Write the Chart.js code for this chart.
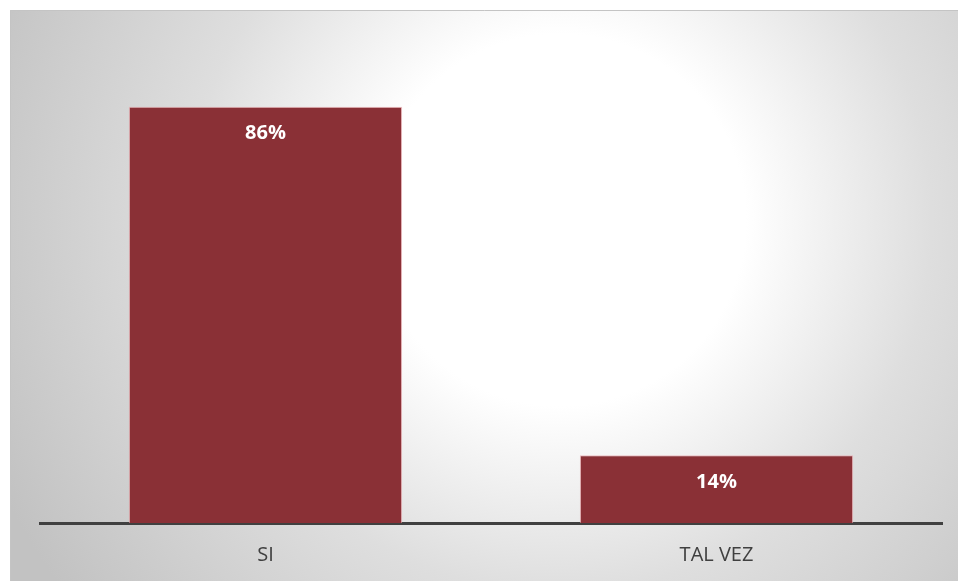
<!DOCTYPE html>
<html>
<head>
<meta charset="utf-8">
<script src="https://cdn.jsdelivr.net/npm/chart.js@4/dist/chart.umd.min.js"></script>
<style>
  html, body { margin: 0; padding: 0; background: #ffffff; }
  #wrap { position: absolute; left: 10px; top: 10px; width: 948px; height: 571px; }
</style>
</head>
<body>
<div id="wrap"><canvas id="chart" width="948" height="571"></canvas></div>
<script>
// Answers and their shares (percent)
const categories = ['SI', 'TAL VEZ'];
const shares = [86, 14];
const yMax = 100;

// Soft radial backdrop plus a thin frame on the top/left edges
const backdrop = {
  id: 'backdrop',
  beforeDraw(chart) {
    const { ctx, width, height } = chart;
    ctx.save();
    const g = ctx.createRadialGradient(550, 210, 0, 550, 210, 620);
    g.addColorStop(0, '#ffffff');
    g.addColorStop(0.3, '#ffffff');
    g.addColorStop(0.6, '#dedede');
    g.addColorStop(1, '#c2c2c2');
    ctx.fillStyle = g;
    ctx.fillRect(0, 0, width, height);
    ctx.strokeStyle = '#c4c4c4';
    ctx.lineWidth = 1;
    ctx.beginPath();
    ctx.moveTo(0.5, height);
    ctx.lineTo(0.5, 0.5);
    ctx.lineTo(width, 0.5);
    ctx.stroke();
    ctx.restore();
  }
};

// White value labels just inside the top of each bar
const valueLabels = {
  id: 'valueLabels',
  afterDatasetsDraw(chart) {
    const { ctx } = chart;
    const meta = chart.getDatasetMeta(0);
    const data = chart.data.datasets[0].data;
    ctx.save();
    ctx.fillStyle = '#ffffff';
    ctx.font = 'bold 20px "Open Sans", sans-serif';
    ctx.textAlign = 'center';
    ctx.textBaseline = 'middle';
    meta.data.forEach((bar, i) => {
      ctx.fillText(data[i] + '%', bar.x, bar.y + 27);
    });
    ctx.restore();
  }
};

new Chart(document.getElementById('chart'), {
  type: 'bar',
  data: {
    labels: categories,
    datasets: [{
      data: shares,
      backgroundColor: '#8a3036',
      borderColor: 'rgba(235, 170, 175, 0.75)',
      borderWidth: { top: 1, left: 1, right: 1, bottom: 0 },
      borderSkipped: false,
      categoryPercentage: 1,
      barPercentage: 0.606
    }]
  },
  options: {
    responsive: false,
    animation: false,
    devicePixelRatio: 1,
    layout: { padding: { left: 30, right: 16, top: 29, bottom: 0 } },
    plugins: {
      legend: { display: false },
      tooltip: { enabled: false }
    },
    scales: {
      x: {
        grid: { display: false, drawTicks: false },
        border: { display: true, color: '#404040', width: 3 },
        ticks: {
          color: '#404040',
          padding: 20,
          font: { family: '"Open Sans", sans-serif', size: 20 }
        },
        afterFit(scale) { scale.height = 58; }
      },
      y: {
        display: false,
        min: 0,
        max: yMax
      }
    }
  },
  plugins: [backdrop, valueLabels]
});
</script>
</body>
</html>
